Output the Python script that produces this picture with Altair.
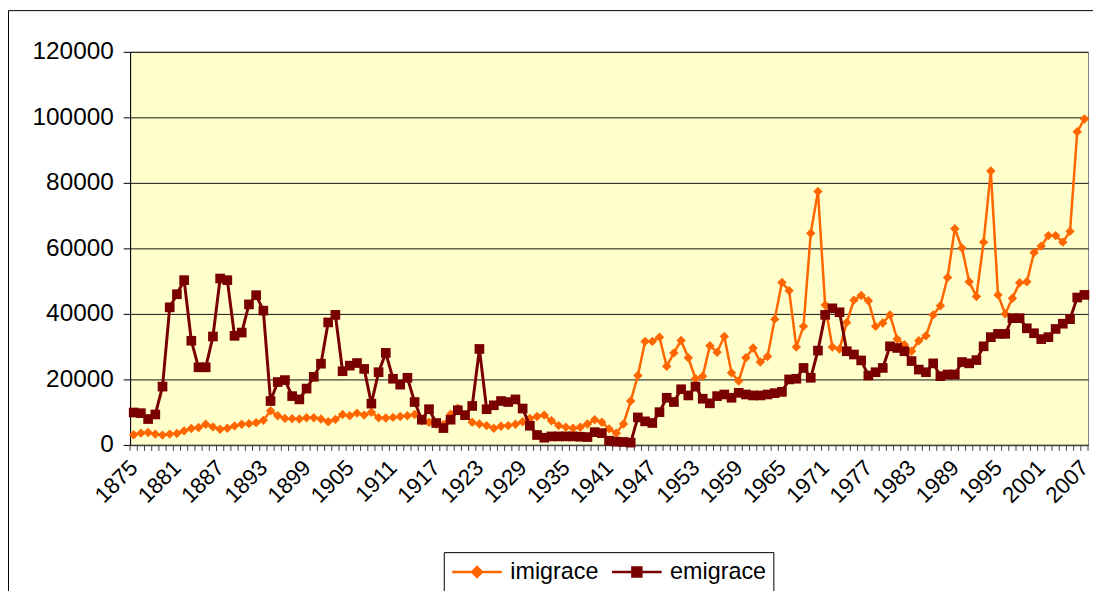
import altair as alt
import pandas as pd

years = list(range(1875, 2008))

imigrace = [
    3100, 3600, 3800, 3300, 3000, 3300, 3500, 4300, 5000, 5300,
    6300, 5500, 4800, 5100, 5800, 6300, 6500, 6800, 7500, 10400,
    8900, 8100, 8000, 7900, 8300, 8300, 7900, 7100, 7800, 9300,
    8900, 9700, 9100, 10000, 8300, 8200, 8400, 8700, 8900, 9300,
    7400, 6900, 6300, 6200, 9400, 11200, 9000, 6900, 6400, 5900,
    5100, 5700, 5900, 6300, 7100, 8100, 8700, 9100, 7400, 5900,
    5400, 5100, 5400, 6400, 7700, 6900, 4900, 3600, 6400, 13400,
    21200, 31600, 31600, 32900, 24000, 28100, 31900, 26600, 20200, 21000,
    30300, 28300, 33100, 22000, 19500, 26600, 29600, 25300, 27000, 38400,
    49600, 47100, 29900, 36200, 64600, 77400, 42700, 29900, 29300, 37400,
    44200, 45600, 44000, 36200, 37200, 39700, 32300, 30600, 28600, 31800,
    33300, 39700, 42500, 51100, 66000, 60100, 49800, 45300, 61900, 83600,
    45800, 40000, 44800, 49500, 49800, 58700, 60700, 63900, 63900, 61900,
    65200, 95600, 99500,
]

emigrace = [
    9900, 9700, 7900, 9300, 17800, 42000, 46000, 50300, 31800, 23700,
    23700, 33100, 50800, 50300, 33300, 34300, 42900, 45700, 41000, 13400,
    19200, 19800, 14900, 13900, 17200, 20800, 24800, 37400, 39700, 22500,
    24200, 25000, 23200, 12600, 22200, 28100, 20200, 18400, 20500, 13100,
    7700, 10900, 6700, 5150, 7700, 10600, 9100, 11900, 29300, 10900,
    12100, 13400, 13100, 13900, 11100, 5860, 3030, 2200, 2600, 2600,
    2600, 2600, 2500, 2400, 3900, 3600, 1300, 1000, 900, 700,
    8400, 7200, 6700, 10000, 14400, 13100, 17000, 15100, 17800, 14100,
    12700, 14900, 15400, 14400, 15900, 15400, 15100, 15100, 15400, 15800,
    16200, 20000, 20200, 23500, 20500, 28800, 39700, 41700, 40500, 28600,
    27600, 25800, 21200, 22200, 23500, 30100, 29600, 28600, 25600, 23000,
    22200, 24900, 21000, 21500, 21500, 25300, 24900, 25900, 30100, 32900,
    33900, 33900, 38700, 38700, 35600, 34100, 32300, 32900, 35400, 37000,
    38400, 45000, 45800,
]

label_years = list(range(1875, 2008, 6))
y_ticks = [0, 20000, 40000, 60000, 80000, 100000, 120000]
series_names = ["imigrace", "emigrace"]
series_colors = ["#FF6600", "#7A0000"]

df = pd.DataFrame({
    "year": years + years,
    "value": imigrace + emigrace,
    "series": ["imigrace"] * len(years) + ["emigrace"] * len(years),
})
bounds_df = pd.DataFrame({"b": [y - 0.5 for y in years] + [years[-1] + 0.5]})

W, H = 965, 396
FONT = "Liberation Sans"

x_scale = alt.Scale(domain=[years[0] - 0.5, years[-1] + 0.5], nice=False, zero=False)
y_scale = alt.Scale(domain=[0, 120000], nice=False)

x_axis = alt.Axis(values=label_years, format="d", labelAngle=-45, labelAlign="right",
                  labelBaseline="middle", labelFontSize=22.5, labelFont=FONT, labelColor="black",
                  ticks=True, tickSize=6, tickColor="transparent", domain=True,
                  domainColor="#404040", domainWidth=1.5, grid=False, title=None,
                  labelPadding=13, labelOverlap=False, labelFlush=False)
y_axis = alt.Axis(values=y_ticks, format="d", labelFontSize=24.5, labelFont=FONT,
                  labelColor="black", tickSize=7, tickColor="black", domainColor="black",
                  gridColor="#111111", gridWidth=1, labelPadding=10, title=None)

X = alt.X("year:Q", scale=x_scale, axis=x_axis)
Y = alt.Y("value:Q", scale=y_scale, axis=y_axis)

base = alt.Chart(df)

border = alt.Chart(pd.DataFrame({"k": [0]})).mark_rect(
    fill="transparent", stroke="black", strokeWidth=1
).encode(x=alt.value(-122.5), x2=alt.value(W + 200), y=alt.value(-41.5), y2=alt.value(H + 400))

cat_ticks = alt.Chart(bounds_df).mark_rule(color="#404040", strokeWidth=1).encode(
    x=alt.X("b:Q", scale=x_scale, axis=x_axis), y=alt.value(H), y2=alt.value(H + 6)
)

line_imi = base.transform_filter(alt.datum.series == "imigrace").mark_line(
    color=series_colors[0], strokeWidth=2.5).encode(x=X, y=Y)
pts_imi = base.transform_filter(alt.datum.series == "imigrace").mark_point(
    shape="diamond", filled=True, size=90, color=series_colors[0], opacity=1).encode(x=X, y=Y)
line_emi = base.transform_filter(alt.datum.series == "emigrace").mark_line(
    color=series_colors[1], strokeWidth=3).encode(x=X, y=Y)
pts_emi = base.transform_filter(alt.datum.series == "emigrace").mark_square(
    size=95, color=series_colors[1], opacity=1).encode(x=X, y=Y)

diamond_path = "M-1,0L1,0M-0.2,0L0,-0.2L0.2,0L0,0.2Z"
square_path = "M-1,0L1,0M-0.18,-0.18L0.18,-0.18L0.18,0.18L-0.18,0.18Z"

leg = alt.Legend(title=None, orient="none", legendX=316, legendY=504, direction="horizontal",
                 labelFontSize=23.5, labelFont=FONT, labelColor="black", symbolSize=2500,
                 symbolStrokeWidth=2.5, strokeColor="black", fillColor="white", padding=7,
                 columnPadding=12, labelOffset=7, clipHeight=26, symbolOpacity=1)

legend_layer = base.transform_filter("false").mark_point(filled=False, opacity=1, strokeWidth=2.5).encode(
    x=X, y=Y,
    color=alt.Color("series:N", scale=alt.Scale(domain=series_names, range=series_colors), legend=leg),
    fill=alt.Fill("series:N", scale=alt.Scale(domain=series_names, range=series_colors), legend=leg),
    shape=alt.Shape("series:N", scale=alt.Scale(domain=series_names, range=[diamond_path, square_path]), legend=leg),
)

chart = alt.layer(border, cat_ticks, line_imi, pts_imi, line_emi, pts_emi, legend_layer).properties(
    width=W, height=H,
    background="white",
    padding={"left": 123, "top": 42, "right": 5, "bottom": 145},
    autosize=alt.AutoSizeParams(type="none"),
).configure_view(stroke="#808080", fill="#FFFFCC")

chart.save("out.html", embed_options={"renderer": "svg", "actions": False})
